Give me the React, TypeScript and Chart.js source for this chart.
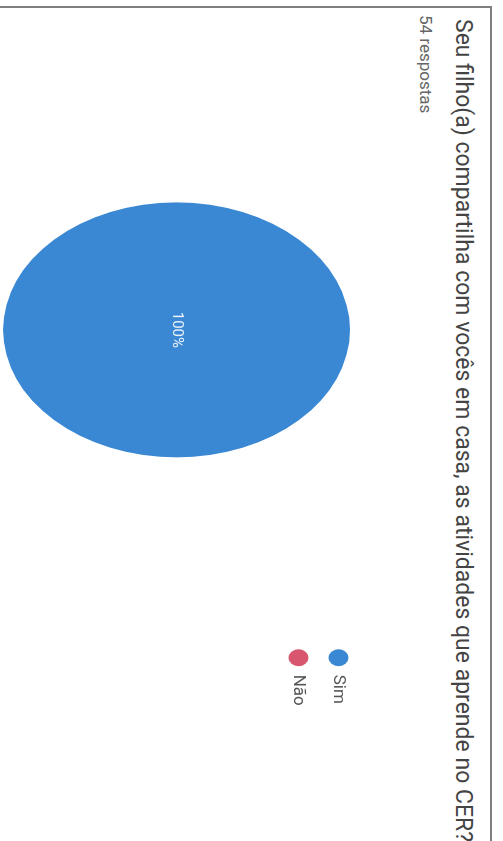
import React, { useEffect, useRef } from "react";
import { Chart, registerables } from "chart.js";

Chart.register(...registerables);

const categories = ["Sim", "Não"];
const responses = [54, 0];
const sliceColors = ["#3a88d4", "#d9566f"];
const titleText =
  "Seu filho(a) compartilha com vocês em casa, as atividades que aprende no CER?";
const subtitleText = "54 respostas";

const ELLIPSE_Y = 1.36;

const stretchPlugin = {
  id: "stretchAndLabel",
  beforeDatasetsDraw(chart: any) {
    const ctx = chart.ctx;
    ctx.save();
    const el = chart.getDatasetMeta(0).data[0];
    if (el) {
      ctx.translate(el.x, el.y);
      ctx.scale(1, ELLIPSE_Y);
      ctx.translate(-el.x, -el.y);
    }
  },
  afterDatasetsDraw(chart: any) {
    const ctx = chart.ctx;
    ctx.restore();
    const data = chart.data.datasets[0].data as number[];
    const total = data.reduce((a, b) => a + b, 0);
    const meta = chart.getDatasetMeta(0);
    ctx.save();
    ctx.fillStyle = "#eef4fb";
    ctx.font = "15px Roboto";
    ctx.textAlign = "center";
    ctx.textBaseline = "middle";
    meta.data.forEach((el: any, i: number) => {
      const v = data[i];
      if (!v) return;
      const pct = Math.round((v / total) * 100);
      let x = el.x;
      let y = el.y;
      if (pct < 100) {
        const p = el.tooltipPosition();
        x = p.x;
        y = el.y + (p.y - el.y) * ELLIPSE_Y;
      }
      ctx.fillText(pct + "%", x, y);
    });
    ctx.restore();
  },
};

function PieCard() {
  const ref = useRef<HTMLCanvasElement | null>(null);
  useEffect(() => {
    if (!ref.current) return;
    const chart = new Chart(ref.current, {
      type: "pie",
      data: {
        labels: categories,
        datasets: [
          {
            data: responses,
            backgroundColor: sliceColors,
            borderWidth: 0,
            radius: 127.5,
            clip: false,
          } as any,
        ],
      },
      options: {
        responsive: false,
        animation: false,
        events: [],
        layout: { padding: { left: 33.5, right: 125.2, top: 0, bottom: 0 } },
        plugins: {
          tooltip: { enabled: false },
          legend: {
            position: "right",
            align: "start",
            labels: {
              usePointStyle: true,
              pointStyle: "circle",
              pointStyleWidth: 17,
              boxHeight: 14,
              padding: 23,
              color: "#555555",
              font: { family: "Roboto", size: 17 },
            },
          },
        },
      } as any,
      plugins: [stretchPlugin as any],
    });
    return () => chart.destroy();
  }, []);

  return (
    <div
      style={{
        position: "absolute",
        left: 0,
        top: 0,
        width: 841,
        height: 503,
        overflow: "hidden",
        background: "#ffffff",
        transformOrigin: "0 0",
        transform: "translate(503px, 0px) rotate(90deg)",
        fontFamily: "Roboto, sans-serif",
      }}
    >
      <div
        style={{
          position: "absolute",
          left: 6,
          top: 11,
          width: 900,
          height: 600,
          borderTop: "2px solid #7f7f7f",
          borderLeft: "2px solid #7f7f7f",
        }}
      />
      <div
        style={{
          position: "absolute",
          left: 19,
          top: 27.6,
          fontSize: 23,
          lineHeight: "23px",
          color: "#444444",
          whiteSpace: "nowrap",
        }}
      >
        {titleText}
      </div>
      <div
        style={{
          position: "absolute",
          left: 15,
          top: 69,
          fontSize: 17,
          lineHeight: "17px",
          color: "#666666",
          whiteSpace: "nowrap",
        }}
      >
        {subtitleText}
      </div>
      <canvas
        ref={ref}
        width={841}
        height={387}
        style={{ position: "absolute", left: 0, top: 133, width: 841, height: 387 }}
      />
    </div>
  );
}

export default function App() {
  return <PieCard />;
}
